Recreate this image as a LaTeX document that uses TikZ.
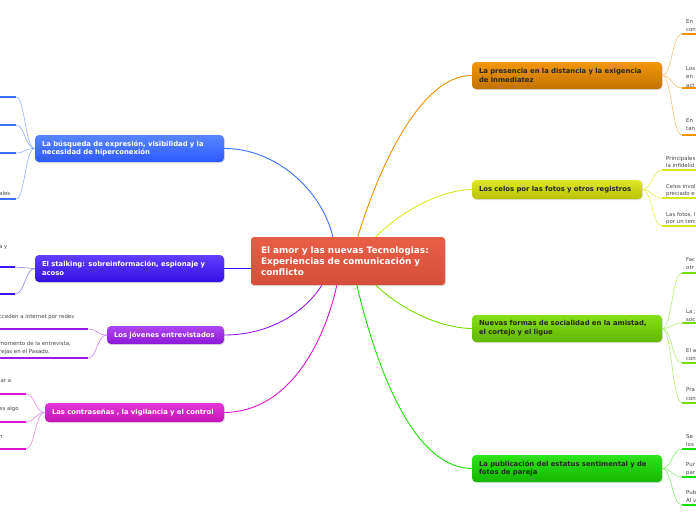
\documentclass[tikz,border=0pt]{standalone}
\usepackage{fontspec}
\setmainfont{DejaVu Sans}
\usetikzlibrary{shadows,calc}
\definecolor{cblue}{HTML}{3A70FF}
\definecolor{cstalk}{HTML}{3A10FF}
\definecolor{cjov}{HTML}{9A1AEE}
\definecolor{cmag}{HTML}{E014D0}
\definecolor{corange}{HTML}{F29000}
\definecolor{cyellow}{HTML}{D8E400}
\definecolor{clime}{HTML}{77DD00}
\definecolor{cgreen}{HTML}{18E000}
\definecolor{cred}{HTML}{E8553E}
\definecolor{leaftext}{HTML}{444444}
\tikzset{
  mainbox/.style={rounded corners=4pt, inner xsep=7pt, inner ysep=0pt, align=left,
    font=\bfseries\fontsize{6.85}{8.8}\selectfont,
    drop shadow={opacity=0.25, shadow xshift=0.8pt, shadow yshift=-1.2pt}},
  centerbox/.style={rounded corners=3pt, inner xsep=10pt, inner ysep=0pt, align=left,
    minimum width=194pt, minimum height=48pt, text width=174pt, text=white,
    top color=cred!95!white, bottom color=cred!92!black,
    font=\bfseries\fontsize{8.9}{11.2}\selectfont,
    drop shadow={opacity=0.25, shadow xshift=0.8pt, shadow yshift=-1.2pt}},
  branch/.style={line width=0.9pt},
  twig/.style={line width=0.6pt},
  bar/.style={line width=2pt},
  leaf/.style={inner sep=0pt, font=\fontsize{5.4}{6.5}\selectfont, text=leaftext},
}
\begin{document}
\begin{tikzpicture}[x=1pt,y=-1pt]
\useasboundingbox (0,0) rectangle (696,520);
\clip (0,0) rectangle (696,520);

\node[centerbox] (c) at (348,261) {El amor y las nuevas Tecnologias:\\Experiencias de comunicación y\\conflicto};

% main nodes
\node[mainbox, minimum width=189pt, minimum height=27pt, text width=175pt, text=white,
  top color=cblue!85!white, bottom color=cblue!80!blue] (b1) at (129.5,148.5)
  {La búsqueda de expresión, visibilidad y la\\necesidad de hiperconexión};
\node[mainbox, minimum width=189pt, minimum height=27pt, text width=175pt, text=white,
  top color=cstalk!80!white, bottom color=cstalk!90!black] (b2) at (129.5,268.5)
  {El stalking: sobreinformación, espionaje y\\acoso};
\node[mainbox, minimum width=117pt, minimum height=18pt, text width=103pt, text=white,
  top color=cjov!80!white, bottom color=cjov!90!black] (b3) at (165.5,335)
  {Los jóvenes entrevistados};
\node[mainbox, minimum width=179pt, minimum height=19pt, text width=165pt, text=white,
  top color=cmag!85!white, bottom color=cmag!88!black] (b4) at (134.5,412.5)
  {Las contraseñas , la vigilancia y el control};

\node[mainbox, minimum width=190pt, minimum height=27pt, text width=176pt, text=black!85,
  top color=corange!95!white, bottom color=corange!80!black] (r1) at (567,75.5)
  {La presencia en la distancia y la exigencia\\de inmediatez};
\node[mainbox, minimum width=170pt, minimum height=19pt, text width=156pt, text=black!85,
  top color=cyellow!85!white, bottom color=cyellow!85!black] (r2) at (557,189.5)
  {Los celos por las fotos y otros registros};
\node[mainbox, minimum width=190pt, minimum height=27pt, text width=176pt, text=black!85,
  top color=clime!90!white, bottom color=clime!82!black] (r3) at (567,328.5)
  {Nuevas formas de socialidad en la amistad,\\el cortejo y el ligue};
\node[mainbox, minimum width=190pt, minimum height=27pt, text width=176pt, text=black!85,
  top color=cgreen!90!white, bottom color=cgreen!82!black] (r4) at (567,468.5)
  {La publicación del estatus sentimental y de\\fotos de pareja};

% centre -> main
\draw[branch, cblue] (b1.east) .. controls (275,148) and (322,190) .. ($(c.north west)+(82,0)$);
\draw[branch, cstalk] (b2.east) -- (c.west |- b2.east);
\draw[branch, cjov] (b3.east) .. controls (270,335) and (305,312) .. ($(c.south west)+(71,0)$);
\draw[branch, cmag] (b4.east) .. controls (290,412) and (325,340) .. ($(c.south west)+(86,0)$);
\draw[branch, corange] ($(c.north west)+(107,0)$) .. controls (378,170) and (420,75) .. (r1.west);
\draw[branch, cyellow!90!white] ($(c.north west)+(125,0)$) .. controls (400,212) and (440,190) .. (r2.west);
\draw[branch, clime] ($(c.south west)+(125,0)$) .. controls (402,310) and (440,328) .. (r3.west);
\draw[branch, cgreen] ($(c.south west)+(106,0)$) .. controls (382,390) and (420,468) .. (r4.west);

% ---------- left leaves ----------
\foreach \y/\n in {97/a,125/b,153/c,199/d} {
  \coordinate (b1\n) at (16,\y);
  \draw[twig, cblue!55!white] (b1.west) .. controls (25,148) and (25,\y) .. (b1\n);
  \draw[bar, cblue] (b1\n) -- (0,\y);
}
\node[leaf, anchor=base west] (t1) at (-1,195) {ales};
\foreach \y/\n in {267/a,294/b} {
  \coordinate (b2\n) at (15,\y);
  \draw[twig, cstalk!55!white] (b2.west) .. controls (25,268.5) and (25,\y) .. (b2\n);
  \draw[bar, cstalk] (b2\n) -- (0,\y);
}
\node[leaf, anchor=base west] (t2) at (-1,248) {a y};
\foreach \y/\n in {329/a,358/b} {
  \coordinate (b3\n) at (88,\y);
  \draw[twig, cjov!55!white] (b3.west) .. controls (97,335) and (97,\y) .. (b3\n);
  \draw[bar, cjov] (b3\n) -- (0,\y);
}
\node[leaf, anchor=base west] (t3) at (-1,318) {cceden a internet por redes};
\node[leaf, anchor=base west] (t4) at (-1,345) {momento de la entrevista,};
\node[leaf, anchor=base west] (t5) at (-1,353) {rejas en el Pasado.};
\foreach \y/\n in {394/a,422/b,449/c} {
  \coordinate (b4\n) at (26,\y);
  \draw[twig, cmag!50!white] (b4.west) .. controls (35,412.5) and (35,\y) .. (b4\n);
  \draw[bar, cmag] (b4\n) -- (0,\y);
}
\node[leaf, anchor=base west] (t6) at (-1,382) {lar a};
\node[leaf, anchor=base west] (t7) at (-1,410) {es algo};
\node[leaf, anchor=base west] (t8) at (-1,438) {n};

% ---------- right leaves ----------
\foreach \y/\n in {34/a,88/b,135/c} {
  \coordinate (r1\n) at (682,\y);
  \draw[twig, corange!55!white] (r1.east) .. controls (672,75.5) and (672,\y) .. (r1\n);
  \draw[bar, corange] (r1\n) -- (696,\y);
}
\node[leaf, anchor=base west] (u1) at (686,23) {En};
\node[leaf, anchor=base west] (u2) at (686,31.5) {con};
\node[leaf, anchor=base west] (u3) at (686,70) {Los};
\node[leaf, anchor=base west] (u4) at (686,78.5) {en};
\node[leaf, anchor=base west] (u5) at (686,87) {act};
\node[leaf, anchor=base west] (u6) at (686,122) {En};
\node[leaf, anchor=base west] (u7) at (686,130.5) {tan};
\foreach \y/\n in {170/a,198/b,226/c} {
  \coordinate (r2\n) at (662,\y);
  \draw[twig, cyellow!70!white] (r2.east) .. controls (652,189.5) and (652,\y) .. (r2\n);
  \draw[bar, cyellow!90!white] (r2\n) -- (696,\y);
}
\node[leaf, anchor=base west] (v1) at (666,160) {Principales};
\node[leaf, anchor=base west] (v2) at (666,167) {la infidelid};
\node[leaf, anchor=base west] (v3) at (666,188) {Celos invol};
\node[leaf, anchor=base west] (v4) at (666,195) {preciado e};
\node[leaf, anchor=base west] (v5) at (666,216) {Las fotos, l};
\node[leaf, anchor=base west] (v6) at (666,223.5) {por un terc};
\foreach \y/\n in {273/a,323/b,363/c,403/d} {
  \coordinate (r3\n) at (682,\y);
  \draw[twig, clime!55!white] (r3.east) .. controls (672,328.5) and (672,\y) .. (r3\n);
  \draw[bar, clime] (r3\n) -- (696,\y);
}
\node[leaf, anchor=base west] (w1) at (686,261) {Fac};
\node[leaf, anchor=base west] (w2) at (686,269.5) {otr};
\node[leaf, anchor=base west] (w3) at (686,313) {La ;};
\node[leaf, anchor=base west] (w4) at (686,321) {soc};
\node[leaf, anchor=base west] (w5) at (686,352) {El a};
\node[leaf, anchor=base west] (w6) at (686,360) {con};
\node[leaf, anchor=base west] (w7) at (686,391) {Pra};
\node[leaf, anchor=base west] (w8) at (686,400) {con};
\foreach \y/\n in {449/a,477/b,505/c} {
  \coordinate (r4\n) at (682,\y);
  \draw[twig, cgreen!55!white] (r4.east) .. controls (672,468.5) and (672,\y) .. (r4\n);
  \draw[bar, cgreen] (r4\n) -- (696,\y);
}
\node[leaf, anchor=base west] (x1) at (686,438) {Se};
\node[leaf, anchor=base west] (x2) at (686,446) {los};
\node[leaf, anchor=base west] (x3) at (686,466) {Pur};
\node[leaf, anchor=base west] (x4) at (686,474) {par};
\node[leaf, anchor=base west] (x5) at (686,494) {Pub};
\node[leaf, anchor=base west] (x6) at (686,502) {Al v};
\end{tikzpicture}
\end{document}
